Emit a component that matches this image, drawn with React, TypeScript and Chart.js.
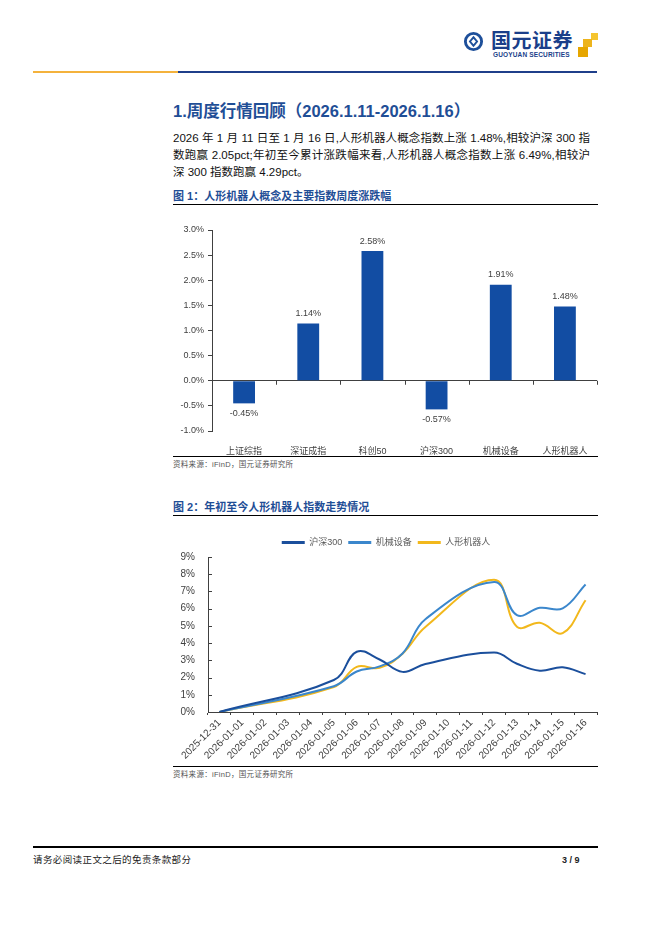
import React, { useEffect, useRef } from "react";
import { Chart, registerables } from "chart.js";

Chart.register(...registerables);

// ---------- data ----------
const barCategories = ["上证综指", "深证成指", "科创50", "沪深300", "机械设备", "人形机器人"];
const barValues = [-0.45, 1.14, 2.58, -0.57, 1.91, 1.48];

const lineDates = [
  "2025-12-31", "2026-01-01", "2026-01-02", "2026-01-03", "2026-01-04", "2026-01-05",
  "2026-01-06", "2026-01-07", "2026-01-08", "2026-01-09", "2026-01-10", "2026-01-11",
  "2026-01-12", "2026-01-13", "2026-01-14", "2026-01-15", "2026-01-16",
];
const seriesNames = ["沪深300", "机械设备", "人形机器人"];
const hs300 = [0, null, null, null, null, 1.86, 3.5, 3.05, 2.33, 2.79, null, null, 3.45, 2.8, 2.4, 2.6, 2.2];
const machinery = [0, null, null, null, null, 1.5, 2.35, 2.65, 3.4, 5.39, null, null, 7.55, 5.62, 6.05, 6.02, 7.4];
const humanoid = [0, null, null, null, null, 1.45, 2.62, 2.56, 3.38, 4.94, null, null, 7.68, 4.95, 5.18, 4.58, 6.49];

const FONT = "'Liberation Sans', 'Noto Sans CJK SC', sans-serif";
const AXIS = "#404040";

const barLabelPlugin = {
  id: "barLabels",
  afterDatasetsDraw(chart: any) {
    const ctx = chart.ctx;
    const meta = chart.getDatasetMeta(0);
    ctx.save();
    ctx.font = "9px " + FONT;
    ctx.fillStyle = AXIS;
    ctx.textAlign = "center";
    ctx.textBaseline = "middle";
    meta.data.forEach((el: any, i: number) => {
      const v = barValues[i];
      const y = v >= 0 ? el.y - 10 : el.y + 10;
      ctx.fillText(v.toFixed(2) + "%", el.x, y);
    });
    ctx.restore();
  },
};

const zeroTickPlugin = {
  id: "zeroTicks",
  afterDatasetsDraw(chart: any) {
    const ctx = chart.ctx;
    const xs = chart.scales.x;
    const ys = chart.scales.y;
    const y0 = ys.getPixelForValue(0);
    const n = chart.data.labels.length;
    const step = xs.getPixelForValue(1) - xs.getPixelForValue(0);
    ctx.save();
    ctx.strokeStyle = AXIS;
    ctx.lineWidth = 1;
    for (let i = 0; i <= n; i++) {
      const px = Math.round(xs.getPixelForValue(0) - step / 2 + i * step) + 0.5;
      ctx.beginPath();
      ctx.moveTo(px, y0);
      ctx.lineTo(px, y0 + 4);
      ctx.stroke();
    }
    ctx.restore();
  },
};

const innerYTickPlugin = {
  id: "innerYTicks",
  afterDraw(chart: any) {
    const ctx = chart.ctx;
    const ys = chart.scales.y;
    const left = chart.chartArea.left;
    ctx.save();
    ctx.strokeStyle = AXIS;
    ctx.lineWidth = 1;
    ys.ticks.forEach((t: any) => {
      const py = Math.round(ys.getPixelForValue(t.value)) + 0.5;
      ctx.beginPath();
      ctx.moveTo(left, py);
      ctx.lineTo(left + 4, py);
      ctx.stroke();
    });
    ctx.restore();
  },
};

function BarChart() {
  const ref = useRef<HTMLCanvasElement>(null);
  useEffect(() => {
    const chart = new Chart(ref.current as HTMLCanvasElement, {
      type: "bar",
      data: {
        labels: barCategories,
        datasets: [
          {
            data: barValues,
            backgroundColor: "#124DA3",
            barPercentage: 0.34,
            categoryPercentage: 1,
          },
        ],
      },
      options: {
        responsive: false,
        animation: false,
        devicePixelRatio: 1,
        layout: { padding: { top: 15, right: 8, left: 0, bottom: 0 } },
        plugins: { legend: { display: false }, tooltip: { enabled: false } },
        scales: {
          x: {
            grid: { display: false },
            border: { display: false },
            ticks: { font: { size: 9, family: FONT }, color: AXIS, padding: 7 },
            afterFit: (s: any) => {
              s.height = 24;
            },
          },
          y: {
            min: -1,
            max: 3,
            ticks: {
              stepSize: 0.5,
              callback: (v: any) => Number(v).toFixed(1) + "%",
              font: { size: 9, family: FONT },
              color: AXIS,
              padding: 4,
            },
            grid: {
              color: (c: any) => (c.tick && c.tick.value === 0 ? AXIS : "rgba(0,0,0,0)"),
              tickColor: AXIS,
              tickLength: 4,
            },
            border: { display: true, color: AXIS },
            afterFit: (s: any) => {
              s.width = 52;
            },
          },
        },
      } as any,
      plugins: [barLabelPlugin, zeroTickPlugin],
    });
    return () => chart.destroy();
  }, []);
  return <canvas ref={ref} width={445} height={240} style={{ display: "block" }} />;
}

function LineChart() {
  const ref = useRef<HTMLCanvasElement>(null);
  useEffect(() => {
    const mk = (label: string, data: (number | null)[], color: string) => ({
      label,
      data,
      borderColor: color,
      backgroundColor: color,
      borderWidth: 2,
      pointRadius: 0,
      tension: 0.4,
      spanGaps: true,
      fill: false,
    });
    const chart = new Chart(ref.current as HTMLCanvasElement, {
      type: "line",
      data: {
        labels: lineDates,
        datasets: [
          mk(seriesNames[0], hs300, "#1B4F9C"),
          mk(seriesNames[1], machinery, "#3B87CC"),
          mk(seriesNames[2], humanoid, "#F2B81C"),
        ],
      },
      options: {
        responsive: false,
        animation: false,
        devicePixelRatio: 1,
        layout: { padding: { top: 0, right: 15, left: 0, bottom: 0 } },
        plugins: {
          tooltip: { enabled: false },
          legend: {
            display: true,
            position: "top",
            labels: {
              usePointStyle: true,
              pointStyle: "line",
              pointStyleWidth: 23,
              padding: 6,
              font: { size: 9, family: FONT },
              color: "#595959",
              generateLabels: (chart: any) => {
                const items = (Chart as any).defaults.plugins.legend.labels.generateLabels(chart);
                return items.map((it: any) => ({ ...it, lineWidth: 3, pointStyle: "line" }));
              },
            },
          },
        },
        scales: {
          x: {
            offset: true,
            grid: {
              display: true,
              offset: true,
              drawOnChartArea: false,
              tickLength: 3,
              color: AXIS,
            },
            border: { display: true, color: AXIS },
            ticks: {
              autoSkip: false,
              minRotation: 45,
              maxRotation: 45,
              font: { size: 10, family: FONT },
              color: AXIS,
              padding: 2,
            },
            afterFit: (s: any) => {
              s.height = 51;
            },
          },
          y: {
            min: 0,
            max: 9,
            ticks: {
              stepSize: 1,
              callback: (v: any) => v + "%",
              font: { size: 10, family: FONT },
              color: AXIS,
              padding: 5,
            },
            grid: { display: false },
            border: { display: true, color: AXIS },
            afterFit: (s: any) => {
              s.width = 33;
            },
          },
        },
      } as any,
      plugins: [innerYTickPlugin],
    });
    return () => chart.destroy();
  }, []);
  return <canvas ref={ref} width={437} height={231} style={{ display: "block" }} />;
}

const abs = (left: number, top: number, extra: React.CSSProperties = {}): React.CSSProperties => ({
  position: "absolute",
  left,
  top,
  ...extra,
});

const BLUE = "#1F4E96";

export default function App() {
  const para: React.CSSProperties = {
    fontSize: 11.5,
    lineHeight: "17px",
    color: "#111",
    width: 417,
    whiteSpace: "nowrap",
  };
  const just: React.CSSProperties = {
    textAlign: "justify",
    textAlignLast: "justify" as any,
    whiteSpace: "normal",
  };
  return (
    <div
      style={{
        position: "absolute",
        left: 0,
        top: 0,
        width: 662,
        height: 936,
        background: "#fff",
        fontFamily: FONT,
        overflow: "hidden",
      }}
    >
      {/* logo */}
      <svg style={abs(463, 31)} width={21} height={21} viewBox="0 0 22 22">
        <circle cx={11} cy={11} r={8.5} fill="none" stroke="#1D4F9A" strokeWidth={3} />
        <path d="M11 5 L16 11 L11 17 L6 11 Z" fill="#1D4F9A" />
        <path d="M11 8 L13.5 11 L11 14 L8.5 11 Z" fill="#fff" />
      </svg>
      <div
        style={abs(491, 29, {
          fontSize: 20,
          lineHeight: "22px",
          fontWeight: 700,
          color: "#1A3F8A",
          fontFamily: "'Noto Sans CJK SC', sans-serif",
          letterSpacing: 0.5,
        })}
      >
        国元证券
      </div>
      <div
        style={abs(493, 51, {
          fontSize: 6.5,
          lineHeight: "7px",
          fontWeight: 700,
          color: "#1A3F8A",
          letterSpacing: 0.15,
          whiteSpace: "nowrap",
        })}
      >
        GUOYUAN SECURITIES
      </div>
      <div style={abs(591, 33, { width: 7, height: 7, background: "#F5C42E" })} />
      <div style={abs(583, 39, { width: 9, height: 8, background: "#EDB41C" })} />
      <div style={abs(578, 47, { width: 10, height: 10, background: "#E6A600" })} />

      {/* header line */}
      <div style={abs(33, 71, { width: 145, height: 1.5, background: "#F4B23C" })} />
      <div style={abs(178, 71, { width: 419, height: 1.5, background: "#1F3F8A" })} />

      {/* heading */}
      <div
        style={abs(173, 101, {
          fontSize: 16.5,
          lineHeight: "20px",
          fontWeight: 700,
          color: BLUE,
          whiteSpace: "nowrap",
        })}
      >
        1.周度行情回顾（2026.1.11-2026.1.16）
      </div>

      {/* paragraph */}
      <div style={{ ...abs(173, 129.5), ...para, ...just }}>
        2026 年 1 月 11 日至 1 月 16 日,人形机器人概念指数上涨 1.48%,相较沪深 300 指
      </div>
      <div style={{ ...abs(173, 146.5), ...para, ...just }}>
        数跑赢 2.05pct;年初至今累计涨跌幅来看,人形机器人概念指数上涨 6.49%,相较沪
      </div>
      <div style={{ ...abs(173, 163.5), ...para }}>深 300 指数跑赢 4.29pct。</div>

      {/* figure 1 */}
      <div
        style={abs(173, 189, {
          fontSize: 11,
          lineHeight: "14px",
          fontWeight: 700,
          color: BLUE,
          whiteSpace: "nowrap",
        })}
      >
        图 1：人形机器人概念及主要指数周度涨跌幅
      </div>
      <div style={abs(173, 204, { width: 425, height: 1, background: "#000" })} />
      <div style={abs(160, 215)}>
        <BarChart />
      </div>
      <div style={abs(173, 456, { width: 425, height: 1, background: "#000" })} />
      <div style={abs(173, 460, { fontSize: 7.5, lineHeight: "10px", color: "#555", whiteSpace: "nowrap", letterSpacing: 0.3 })}>
        资料来源：iFinD，国元证券研究所
      </div>

      {/* figure 2 */}
      <div
        style={abs(173, 500, {
          fontSize: 11,
          lineHeight: "14px",
          fontWeight: 700,
          color: BLUE,
          whiteSpace: "nowrap",
        })}
      >
        图 2：年初至今人形机器人指数走势情况
      </div>
      <div style={abs(173, 515, { width: 425, height: 1, background: "#000" })} />
      <div style={abs(175, 532)}>
        <LineChart />
      </div>
      <div style={abs(173, 766, { width: 425, height: 1, background: "#000" })} />
      <div style={abs(173, 770, { fontSize: 7.5, lineHeight: "10px", color: "#555", whiteSpace: "nowrap", letterSpacing: 0.3 })}>
        资料来源：iFinD，国元证券研究所
      </div>

      {/* footer */}
      <div style={abs(33, 846, { width: 565, height: 2, background: "#000" })} />
      <div
        style={abs(33, 854, {
          fontSize: 9.5,
          lineHeight: "12px",
          color: "#222",
          letterSpacing: 0.4,
          whiteSpace: "nowrap",
        })}
      >
        请务必阅读正文之后的免责条款部分
      </div>
      <div
        style={abs(562, 854, {
          fontSize: 9,
          lineHeight: "12px",
          fontWeight: 700,
          color: "#222",
          whiteSpace: "nowrap",
        })}
      >
        3 / 9
      </div>
    </div>
  );
}
